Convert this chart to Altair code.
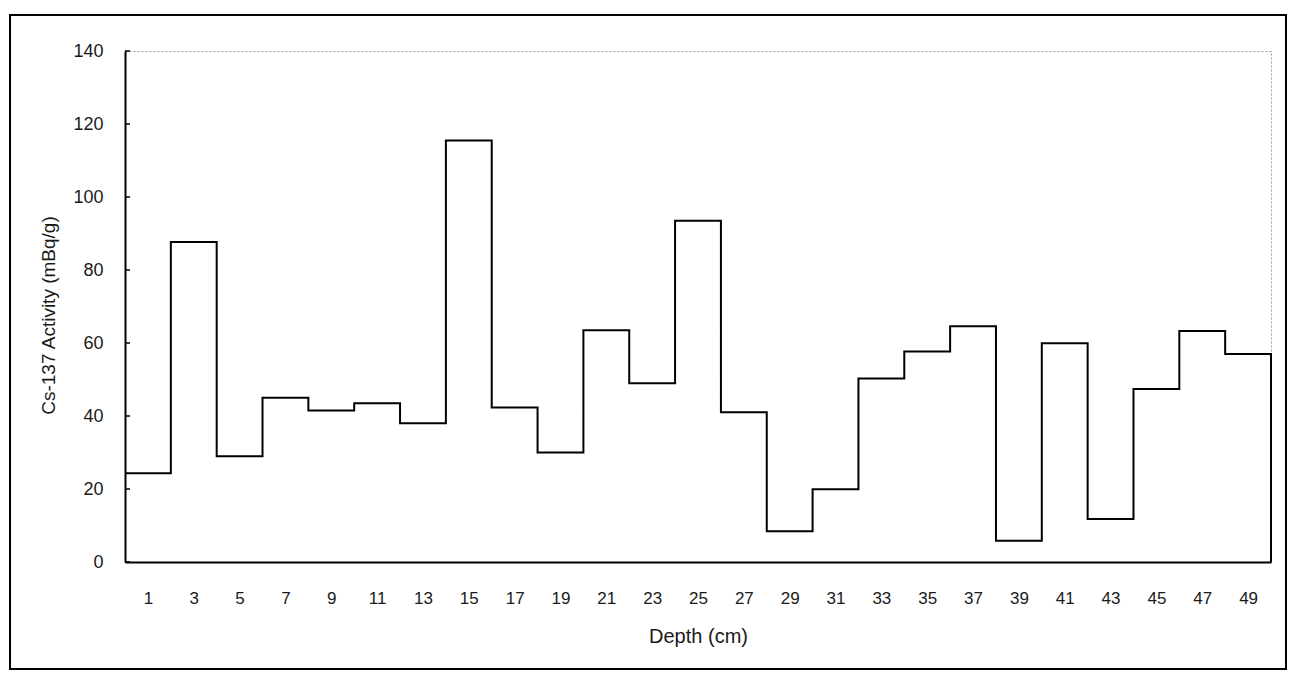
import altair as alt
import pandas as pd

# ---- data ----
depth_mid = list(range(1, 50, 2))          # centre of each 2 cm slice
activity = [24.3, 87.7, 29.0, 45.0, 41.5, 43.5, 38.0, 115.5, 42.3, 30.0,
            63.5, 49.0, 93.5, 41.0, 8.4, 19.9, 50.3, 57.7, 64.6, 5.8,
            59.9, 11.8, 47.4, 63.3, 57.0]
slice_width = 2
y_ticks = [0, 20, 40, 60, 80, 100, 120, 140]
x_tick_labels = depth_mid

# build step outline (step-after from slice top edges)
rows = []
for i, (d, a) in enumerate(zip(depth_mid, activity)):
    rows.append({"x": d - slice_width / 2, "y": a, "seq": i})
rows.append({"x": depth_mid[-1] + slice_width / 2, "y": activity[-1], "seq": len(rows)})
rows.append({"x": depth_mid[-1] + slice_width / 2, "y": 0, "seq": len(rows)})
df = pd.DataFrame(rows)

W, H = 1146, 511
FONT = "Liberation Sans, Arial, sans-serif"

x_scale = alt.Scale(domain=[0, 50], nice=False, zero=False)
y_scale = alt.Scale(domain=[0, 140], nice=False)

y_axis = alt.Axis(values=y_ticks, title="Cs-137 Activity (mBq/g)",
                  ticks=False, tickSize=0, grid=False,
                  domainColor="black", domainWidth=2,
                  labelFont=FONT, labelFontSize=18, labelColor="#1a1a1a",
                  labelPadding=22,
                  titleFont=FONT, titleFontSize=19, titleFontWeight="normal",
                  titleColor="#1a1a1a", titleAngle=270, titleX=-77, titleY=264,
                  titleAlign="center", titleBaseline="middle")

line = alt.Chart(df).mark_line(
    interpolate="step-after", color="black", strokeWidth=2
).encode(
    x=alt.X("x:Q", scale=x_scale,
            axis=alt.Axis(values=x_tick_labels, title="Depth (cm)",
                          ticks=False, tickSize=0, grid=False,
                          domainColor="black", domainWidth=2,
                          labelFont=FONT, labelFontSize=17, labelColor="#1a1a1a",
                          labelPadding=28, labelFlush=False, labelOverlap=False,
                          titleFont=FONT, titleFontSize=20, titleFontWeight="normal",
                          titleColor="#1a1a1a", titleY=74, titleBaseline="middle")),
    y=alt.Y("y:Q", scale=y_scale, axis=y_axis),
    order=alt.Order("seq:Q"),
)

tick_df = pd.DataFrame({"y": y_ticks})
inner_ticks = alt.Chart(tick_df).mark_rule(color="black", strokeWidth=1.5).encode(
    y=alt.Y("y:Q", scale=y_scale, axis=y_axis),
    x=alt.value(0),
    x2=alt.value(5),
)

frame = alt.Chart(pd.DataFrame({"k": [0]})).mark_rect(
    fill="transparent", stroke="black", strokeWidth=2
).encode(
    x=alt.value(-115), x2=alt.value(1161), y=alt.value(-36), y2=alt.value(618)
)

chart = alt.layer(frame, line, inner_ticks).properties(
    width=W, height=H,
    autosize=alt.AutoSizeParams(type="none"),
    padding={"left": 117, "top": 43, "right": 16, "bottom": 108},
    background="white",
).configure_view(
    stroke="#9a9a9a", strokeDash=[2, 2], strokeWidth=1
)

chart.save("out.html", embed_options={"renderer": "svg", "actions": False})
